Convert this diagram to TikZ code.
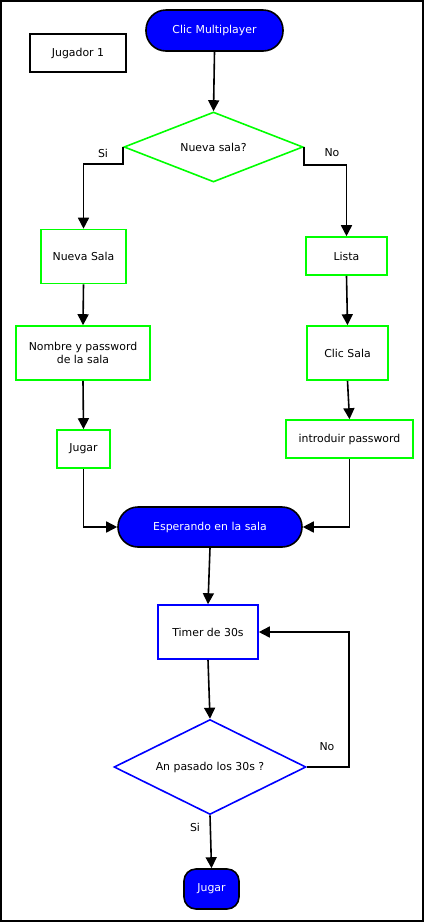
\documentclass[tikz,border=0pt]{standalone}
\usepackage{fontspec}
\setmainfont{DejaVu Sans}
\usetikzlibrary{shapes.geometric,arrows.meta}
\definecolor{fgreen}{HTML}{00FF00}
\definecolor{fblue}{HTML}{0000FF}
\begin{document}
\begin{tikzpicture}[x=1pt,y=-1pt,
  every node/.style={font=\fontsize{10.9}{13.5}\selectfont, inner sep=0pt},
  term/.style={draw=black, line width=1.6pt, fill=fblue, text=white, rounded corners=20pt},
  gbox/.style={draw=fgreen, line width=1.6pt, fill=white},
  bbox/.style={draw=fblue, line width=1.6pt, fill=white},
  gdec/.style={diamond, aspect=2.56, draw=fgreen, line width=1.6pt, fill=white},
  bdec/.style={diamond, aspect=2.02, draw=fblue, line width=1.6pt, fill=white},
  plain/.style={draw=black, line width=1.6pt, fill=white},
  conn/.style={draw=black, line width=1.6pt, -{Triangle[length=11pt,width=11pt]}},
  lbl/.style={font=\fontsize{10.9}{13.5}\selectfont}
]
\useasboundingbox (0,0) rectangle (424,922);
\draw[line width=2.2pt] (1.2,1.2) rectangle (422.6,920.6);

\node[term, minimum width=137, minimum height=41] (cm) at (214.5,30.5) {Clic Multiplayer};
\node[plain, minimum width=96, minimum height=38, line width=1.4pt] (j1) at (78,53) {Jugador 1};
\node[gdec, minimum width=179, minimum height=70] (ns) at (213.5,147) {Nueva sala?};

\node[gbox, minimum width=85, minimum height=54] (nsala) at (83.5,256.5) {Nueva Sala};
\node[gbox, minimum width=134, minimum height=54, align=center] (nombre) at (83,353) {Nombre y password\\de la sala};
\node[gbox, minimum width=53, minimum height=38] (jugarg) at (83.5,449) {Jugar};

\node[gbox, minimum width=81, minimum height=38] (lista) at (346.5,256) {Lista};
\node[gbox, minimum width=81, minimum height=54] (clicsala) at (347.5,353) {Clic Sala};
\node[gbox, minimum width=127, minimum height=38] (intro) at (349.5,439) {introduir password};

\node[term, minimum width=184, minimum height=40] (esp) at (210,527) {Esperando en la sala};
\node[bbox, minimum width=100, minimum height=54] (timer) at (208,632) {Timer de 30s};
\node[bdec, minimum width=192, minimum height=95] (pasado) at (210,767) {An pasado los 30s ?};
\node[term, rounded corners=12pt, minimum width=55, minimum height=40] (jugar) at (211.5,889) {Jugar};

\draw[conn] (cm.south) -- (ns.north);
\draw[conn] (ns.west) -- ++(0,17) -| (nsala.north);
\draw[conn] (ns.east) -- ++(0,18) -| (lista.north);
\draw[conn] (nsala.south) -- (nombre.north);
\draw[conn] (nombre.south) -- (jugarg.north);
\draw[conn] (lista.south) -- (clicsala.north);
\draw[conn] (clicsala.south) -- (intro.north);
\draw[conn] (jugarg.south) |- (esp.west);
\draw[conn] (intro.south) |- (esp.east);
\draw[conn] (esp.south) -- (timer.north);
\draw[conn] (timer.south) -- (pasado.north);
\draw[conn] (pasado.east) -- ++(42,0) |- (timer.east);
\draw[conn] (pasado.south) -- (jugar.north);

\node[lbl] (lsi1) at (103,153) {Si};
\node[lbl] (lno1) at (332,153) {No};
\node[lbl] (lno2) at (327,747) {No};
\node[lbl] (lsi2) at (195,827) {Si};
\end{tikzpicture}
\end{document}
